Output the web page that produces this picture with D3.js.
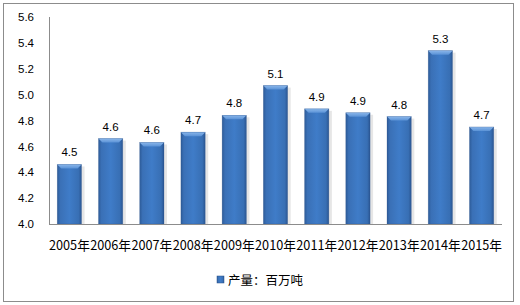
<!DOCTYPE html>
<html><head><meta charset="utf-8">
<script src="https://cdn.jsdelivr.net/npm/d3@7"></script>
<style>body{margin:0;background:#fff}svg{display:block}</style>
</head><body>
<svg id="c" width="520" height="305"></svg>
<script>
const categories = ["2005年","2006年","2007年","2008年","2009年","2010年","2011年","2012年","2013年","2014年","2015年"];
const values = [4.46, 4.66, 4.63, 4.71, 4.84, 5.07, 4.89, 4.86, 4.83, 5.34, 4.75];
const valueLabels = ["4.5","4.6","4.6","4.7","4.8","5.1","4.9","4.9","4.8","5.3","4.7"];
const yTicks = [4.0, 4.2, 4.4, 4.6, 4.8, 5.0, 5.2, 5.4, 5.6];
const seriesName = "产量：百万吨";

(function(){
const svg = d3.select("#c");
const pL = 49, pR = 502, pT = 17, pB = 224;
const font = "'Liberation Sans', Arial, sans-serif";
const cjk = "'Noto Sans CJK SC', sans-serif";

svg.append("rect").attr("x",3.5).attr("y",3.5).attr("width",510).attr("height",298)
  .attr("fill","#fff").attr("stroke","#8c8c8c").attr("stroke-width",1);

const x = d3.scaleBand().domain(categories).range([pL, pR]).paddingInner(0.41).paddingOuter(0.2);
const y = d3.scaleLinear().domain([4.0, 5.6]).range([pB, pT]);

const defs = svg.append("defs");
const g1 = defs.append("linearGradient").attr("id","bar").attr("x1",0).attr("x2",1).attr("y1",0).attr("y2",0);
[[0,"#2d5b98"],[0.12,"#3a70b6"],[0.5,"#3f7cc8"],[0.88,"#386fb4"],[1,"#2a5591"]].forEach(s=>g1.append("stop").attr("offset",s[0]).attr("stop-color",s[1]));
const g2 = defs.append("linearGradient").attr("id","bev").attr("x1",0).attr("x2",0).attr("y1",0).attr("y2",1);
[[0,"#8ab6ea"],[1,"#5a92d6"]].forEach(s=>g2.append("stop").attr("offset",s[0]).attr("stop-color",s[1]));

const ya = svg.append("g").attr("transform",`translate(${pL},0)`)
  .call(d3.axisLeft(y).tickValues(yTicks).tickFormat(d3.format(".1f")).tickSize(0).tickPadding(15));
ya.select(".domain").attr("stroke","#8c8c8c").attr("d",`M0.5,${pT}V${pB}`);
ya.selectAll("text").attr("font-family",font).attr("font-size","11.5px").attr("fill","#000");

const bars = svg.append("g");
categories.forEach((c,i)=>{
  const bx = x(c), bw = x.bandwidth(), by = y(values[i]), bh = pB - by;
  bars.append("rect").attr("x",bx+bw).attr("y",by+2).attr("width",3).attr("height",bh-2).attr("fill","#e6e6e6");
  bars.append("rect").attr("x",bx).attr("y",by).attr("width",bw).attr("height",bh).attr("fill","url(#bar)");
  bars.append("path").attr("d",`M${bx},${by}H${bx+bw}L${bx+bw-4},${by+4}H${bx+4}Z`).attr("fill","url(#bev)");
  bars.append("rect").attr("x",bx).attr("y",by).attr("width",bw).attr("height",bh).attr("fill","none").attr("stroke","#2a5088").attr("stroke-opacity",0.4).attr("stroke-width",0.6);
  svg.append("text").attr("x",bx+bw/2).attr("y",by-8).attr("text-anchor","middle")
    .attr("font-family",font).attr("font-size","11.5px").attr("fill","#000").text(valueLabels[i]);
});

const xa = svg.append("g").attr("transform",`translate(0,${pB})`)
  .call(d3.axisBottom(x).tickSize(0).tickPadding(17));
xa.select(".domain").attr("stroke","#8c8c8c").attr("d",`M${pL},0.5H${pR}`);
xa.selectAll("text").attr("font-family",cjk).attr("font-size","12.7px").attr("fill","#000");

const lg = svg.append("g");
lg.append("rect").attr("x",217).attr("y",276).attr("width",7).attr("height",7).attr("fill","url(#bar)").attr("stroke","#2a5088").attr("stroke-width",0.5);
lg.append("text").attr("x",228).attr("y",284.5).attr("font-family",cjk).attr("font-size","12.5px").attr("fill","#000").text(seriesName);
})();
</script>
</body></html>
